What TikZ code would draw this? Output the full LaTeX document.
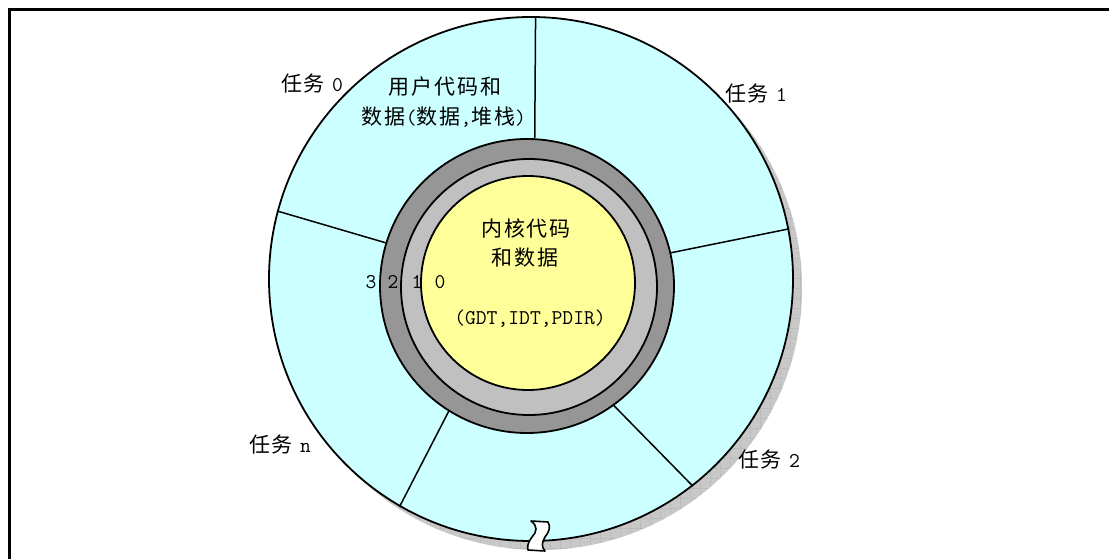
\documentclass[tikz,border=0pt]{standalone}
\usepackage{fontspec}
\usetikzlibrary{patterns.meta}
\newfontfamily\cjk[LetterSpace=9]{Noto Sans CJK SC}
\newcommand\C[1]{{\cjk\fontsize{21}{25}\selectfont #1}}
\newcommand\smallgap{{\fontsize{14}{16}\selectfont\ }}
\definecolor{cyanbg}{RGB}{204,255,255}
\definecolor{ringdark}{RGB}{150,150,150}
\definecolor{ringlight}{RGB}{192,192,192}
\definecolor{coreyellow}{RGB}{255,255,153}
\definecolor{shadowgray}{RGB}{200,200,200}
\definecolor{gridgray}{RGB}{165,165,165}
\tikzdeclarepattern{
  name=shadowgrid,
  type=uncolored,
  bounding box={(0pt,0pt) and (10pt,10pt)},
  tile size={(10pt,10pt)},
  code={\draw[line width=0.6pt] (0pt,0pt) -- (10pt,0pt) (0pt,0pt) -- (0pt,10pt);}
}
\tikzset{
  disc/.style={circle, draw=black, line width=1.8pt, inner sep=0pt},
  divider/.style={draw=black, line width=1.5pt},
  lbl/.style={inner sep=0pt, font=\fontsize{21}{25}\ttfamily, align=center},
  frameline/.style={draw=black, line width=3pt},
}
\begin{document}
\begin{tikzpicture}[x=1pt, y=-1pt]
\useasboundingbox (0,0) rectangle (1109,559);
% frame
\coordinate (fbl) at (9,561);
\coordinate (ftl) at (9,10);
\coordinate (ftr) at (1111,10);
\draw[frameline] (fbl) -- (ftl) -- (ftr);
% shadow
\node[circle, inner sep=0pt, minimum size=524pt, fill=shadowgray,
      postaction={pattern=shadowgrid, pattern color=gridgray}] (shadow) at (540,288) {};
% outer disc
\node[disc, minimum size=524pt, fill=cyanbg] (outer) at (531,279) {};
% rings
\node[disc, minimum size=294pt, fill=ringdark] (dark) at (527,286) {};
\node[disc, minimum size=256pt, fill=ringlight] (light) at (529,287) {};
\node[disc, minimum size=214pt, fill=coreyellow] (core) at (528,283) {};
% dividers
\draw[divider] (outer.89.6) -- (dark.87.7);
\draw[divider] (outer.11.5) -- (dark.13.9);
\draw[divider] (outer.-52) -- (dark.-54);
\draw[divider] (outer.-120.8) -- (dark.-122.7);
\draw[divider] (outer.165.1) -- (dark.163);
% break mark
\draw[fill=white, line width=1.6pt, line join=round]
  (531,521) .. controls (538,526) and (537,532) .. (532,537)
  .. controls (528,542) and (527,547) .. (528,550)
  -- (545,551) .. controls (541,547) and (542,542) .. (545,537)
  .. controls (549,532) and (551,527) .. (548,522) -- cycle;
% labels
\node[lbl] (t0) at (312,84) {\C{任务}\smallgap 0};
\node[lbl] (t1) at (756,94) {\C{任务}\smallgap 1};
\node[lbl] (tn) at (280,445) {\C{任务}\smallgap n};
\node[lbl] (t2) at (769,460) {\C{任务}\smallgap 2};
\node[lbl] (user1) at (445,87) {\C{用户代码和}};
\node[lbl] (user2) at (444,117) {\C{数据}(\C{数据},\C{堆栈})};
\node[lbl] (k1) at (526,228) {\C{内核代码}};
\node[lbl] (k2) at (525,258) {\C{和数据}};
\node[lbl] (k3) at (530,319) {(GDT,IDT,PDIR)};
\node[lbl] (r3) at (371,282) {3};
\node[lbl] (r2) at (393,282) {2};
\node[lbl] (r1) at (417,282) {1};
\node[lbl] (r0) at (440,282) {0};
\end{tikzpicture}
\end{document}
